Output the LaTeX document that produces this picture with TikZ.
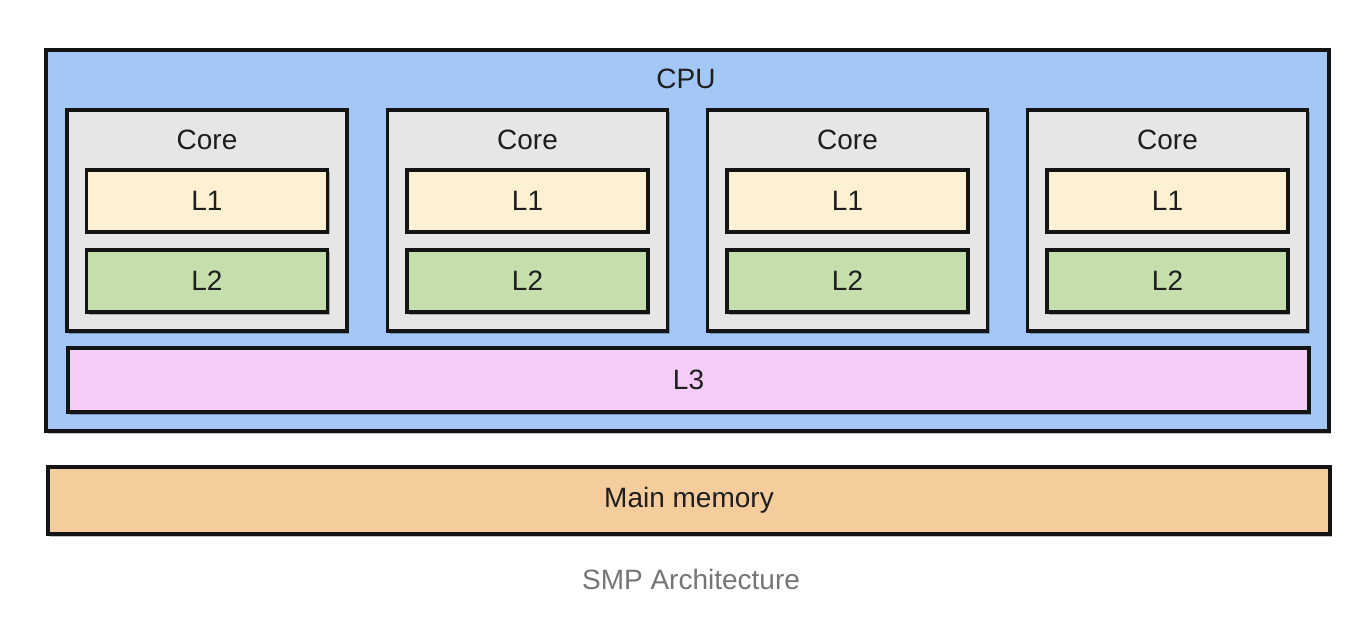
\documentclass[tikz,border=0pt]{standalone}
\usepackage{fontspec}
\setmainfont{Liberation Sans}
\usetikzlibrary{shadows}
\definecolor{cpublue}{HTML}{A4C8F5}
\definecolor{coregray}{HTML}{E6E6E6}
\definecolor{lonefill}{HTML}{FCF1D2}
\definecolor{ltwofill}{HTML}{C4DFAB}
\definecolor{lthreefill}{HTML}{F4CCF8}
\definecolor{memfill}{HTML}{F5CD9D}
\definecolor{captiongray}{HTML}{757575}
\definecolor{textdark}{HTML}{1E1E1E}
\tikzset{
  box/.style={draw=black!92, line width=3.2pt, rectangle, inner sep=0pt,
    drop shadow={shadow xshift=2pt, shadow yshift=-2.5pt, opacity=0.25, fill=black}},
  lbl/.style={font=\fontsize{28}{32}\selectfont, text=textdark, inner sep=0pt},
}
\begin{document}
\begin{tikzpicture}[x=1pt,y=-1pt]
\useasboundingbox (0,0) rectangle (1364,636);
\node[box, fill=cpublue, minimum width=1283pt, minimum height=381pt] (cpu) at (687.5,240.5) {};
\node[lbl] (cputext) at (686,79) {CPU};
\foreach \i/\cx in {1/207,2/527.5,3/847.5,4/1167.5}{
  \node[box, fill=coregray, minimum width=280pt, minimum height=221pt] (core\i) at (\cx,220.5) {};
  \node[lbl] (coretext\i) at (\cx,140) {Core};
  \node[box, fill=lonefill, minimum width=241pt, minimum height=62pt, lbl] (lone\i) at (\cx,201) {L1};
  \node[box, fill=ltwofill, minimum width=241pt, minimum height=62pt, lbl] (ltwo\i) at (\cx,281) {L2};
}
\node[box, fill=lthreefill, minimum width=1241pt, minimum height=64pt, lbl] (lthree) at (688.5,380) {L3};
\node[box, fill=memfill, minimum width=1282pt, minimum height=67pt, lbl] (mem) at (689,500.5) {Main memory};
\node[font=\fontsize{28}{32}\selectfont, text=captiongray, inner sep=0pt] (caption) at (691,579) {SMP Architecture};
\end{tikzpicture}
\end{document}
